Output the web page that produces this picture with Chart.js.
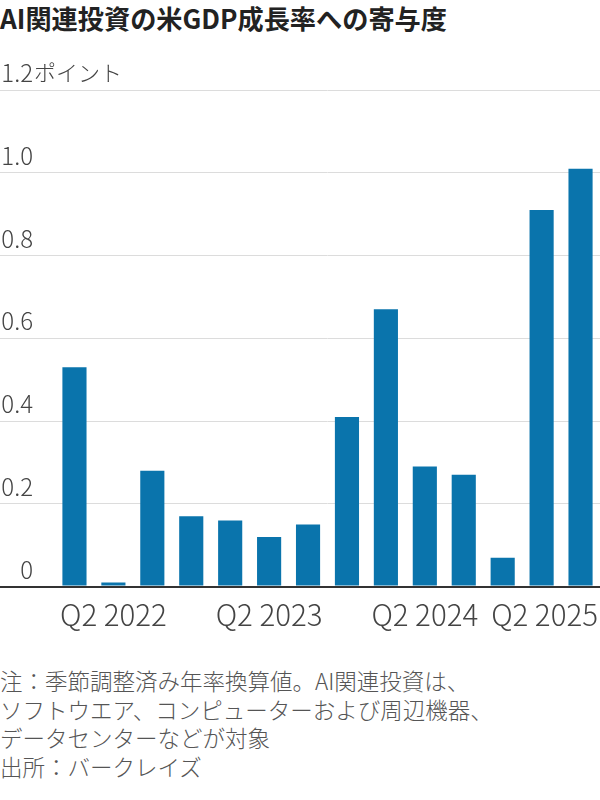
<!DOCTYPE html>
<html lang="ja">
<head>
<meta charset="utf-8">
<title>AI関連投資の米GDP成長率への寄与度</title>
<script src="https://cdn.jsdelivr.net/npm/chart.js@4.4.1/dist/chart.umd.min.js"></script>
<style>
  html, body { margin: 0; padding: 0; background: #fff; }
  body { width: 600px; height: 800px; overflow: hidden; font-family: "Noto Sans CJK JP", "Noto Sans", sans-serif; }
  .title { margin: 3px 0 0 0; font-size: 26.2px; line-height: 31px; font-weight: 700; color: #222; }
  .chart-wrap { position: absolute; left: 0; top: 60px; width: 600px; height: 574px; }
  .note { position: absolute; left: 0; top: 666px; font-size: 22.5px; line-height: 28.5px; color: #555; font-weight: 300; }
</style>
</head>
<body>
  <div class="title">AI関連投資の米GDP成長率への寄与度</div>
  <div class="chart-wrap"><canvas id="aiChart" width="600" height="574"></canvas></div>
  <div class="note">
    注：季節調整済み年率換算値。AI関連投資は、<br>
    ソフトウエア、コンピューターおよび周辺機器、<br>
    データセンターなどが対象<br>
    出所：バークレイズ
  </div>

<script>
// ─── Data ─────────────────────────────────────────────────
const quarters = [
  'Q1 2022', 'Q2 2022', 'Q3 2022', 'Q4 2022',
  'Q1 2023', 'Q2 2023', 'Q3 2023', 'Q4 2023',
  'Q1 2024', 'Q2 2024', 'Q3 2024', 'Q4 2024',
  'Q1 2025', 'Q2 2025'
];
const contribution = [0.53, 0.01, 0.28, 0.17, 0.16, 0.12, 0.15, 0.41, 0.67, 0.29, 0.27, 0.07, 0.91, 1.01];
const shownQuarters = ['Q2 2022', 'Q2 2023', 'Q2 2024', 'Q2 2025'];
const yMin = 0, yMax = 1.2, yStep = 0.2;
const yUnit = 'ポイント';

// ─── Styling ──────────────────────────────────────────────
const FONT     = '"Noto Sans CJK JP", "Noto Sans", sans-serif';
const BAR_BLUE = '#0a74ac';
const GRID     = '#dcdcdc';
const ZERO     = '#333';
const TEXT     = '#444';
const AXIS_W   = 55;   // room for the y labels left of the bars
const LABEL_X  = 33;   // right edge of the y labels
const LABEL_UP = -17;  // y labels sit above their gridline

// keep the last quarter label inside the canvas, add the unit after the top tick
const edgeLabels = {
  id: 'edgeLabels',
  beforeDraw(chart) {
    const items = chart.scales.x.getLabelItems();
    const last = items[items.length - 1];
    if (last && last.options && last.options.translation) {
      last.options.translation[0] = chart.width - 2;
    }
  },
  afterDraw(chart) {
    const y = chart.scales.y;
    const ctx = chart.ctx;
    ctx.save();
    ctx.font = '300 22px ' + FONT;
    ctx.fillStyle = TEXT;
    ctx.textAlign = 'left';
    ctx.textBaseline = 'middle';
    ctx.fillText(yUnit, LABEL_X + 1, y.getPixelForValue(yMax) + LABEL_UP);
    ctx.restore();
  }
};

new Chart(document.getElementById('aiChart'), {
  type: 'bar',
  data: {
    labels: quarters,
    datasets: [{
      data: contribution,
      backgroundColor: BAR_BLUE,
      borderWidth: 0,
      barPercentage: 0.62,
      categoryPercentage: 1
    }]
  },
  options: {
    responsive: false,
    animation: false,
    layout: { padding: { top: 30, right: 0, bottom: 0, left: 0 } },
    plugins: { legend: { display: false }, tooltip: { enabled: false } },
    scales: {
      x: {
        offset: true,
        grid: { display: false },
        border: { display: false },
        ticks: {
          autoSkip: false,
          maxRotation: 0,
          align: 'inner',
          padding: 2,
          color: TEXT,
          font: { family: FONT, size: 29.5, weight: 300 },
          callback: function (val) {
            const q = this.getLabelForValue(val);
            return shownQuarters.includes(q) ? q : '';
          }
        }
      },
      y: {
        min: yMin,
        max: yMax,
        afterFit: scale => { scale.width = AXIS_W; },
        border: { display: false },
        grid: {
          drawTicks: true,
          tickLength: AXIS_W,
          color: c => c.tick && c.tick.value === 0 ? ZERO : GRID,
          tickColor: c => c.tick && c.tick.value === 0 ? ZERO : GRID,
          lineWidth: c => c.tick && c.tick.value === 0 ? 2 : 1
        },
        ticks: {
          stepSize: yStep,
          padding: -LABEL_X,
          labelOffset: LABEL_UP,
          crossAlign: 'near',
          color: TEXT,
          font: { family: FONT, size: 24, weight: 300 },
          callback: v => v === 0 ? '0' : v.toFixed(1)
        }
      }
    }
  },
  plugins: [edgeLabels]
});
</script>
</body>
</html>
